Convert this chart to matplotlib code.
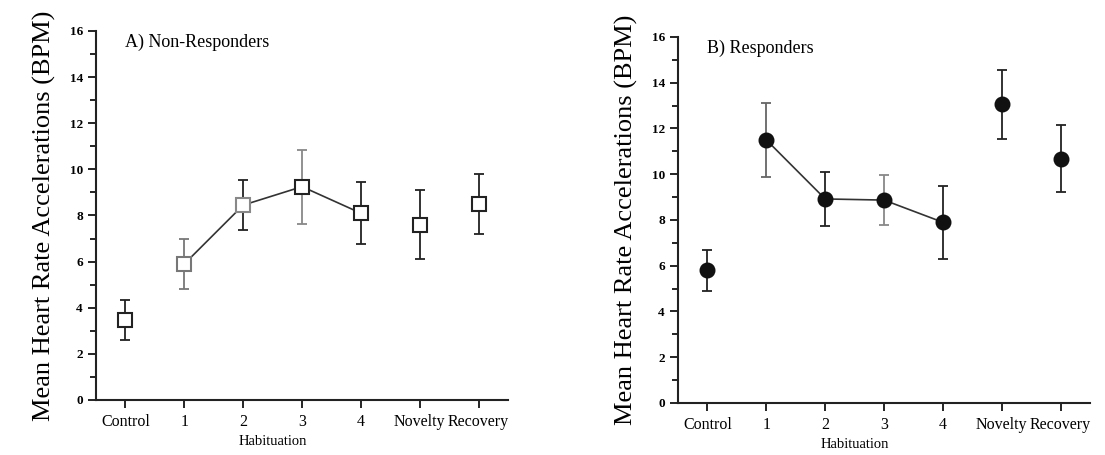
import numpy as np
import matplotlib
matplotlib.use("Agg")
import matplotlib.pyplot as plt
from matplotlib.ticker import MultipleLocator

plt.rcParams['font.family'] = ['Liberation Serif', 'DejaVu Serif']

# Data
conditions = ["Control", "1", "2", "3", "4", "Novelty", "Recovery"]
hab_idx = [1, 2, 3, 4]  # the habituation trials are joined by a line

nonresp_mean = [3.45, 5.9, 8.45, 9.25, 8.1, 7.6, 8.5]
nonresp_err = [0.87, 1.1, 1.1, 1.6, 1.35, 1.5, 1.3]

resp_mean = [5.8, 11.5, 8.92, 8.87, 7.9, 13.05, 10.68]
resp_err = [0.9, 1.6, 1.18, 1.1, 1.6, 1.5, 1.47]

# a few bars/markers are printed in grey in the original
nonresp_bar_col = ["#222222", "#777777", "#222222", "#888888", "#222222", "#222222", "#222222"]
nonresp_edge_col = ["#222222", "#777777", "#888888", "#222222", "#222222", "#222222", "#222222"]
resp_bar_col = ["#222222", "#666666", "#222222", "#888888", "#222222", "#222222", "#222222"]

fig = plt.figure(figsize=(11.05, 4.55), dpi=100)
axA = fig.add_axes([0.0869, 0.1209, 0.3729, 0.811])
axB = fig.add_axes([0.6136, 0.1143, 0.3729, 0.8044])


def draw_panel(ax, means, errs, bar_cols, edge_cols, marker, face, title):
    x = np.arange(len(conditions))
    ax.plot([x[i] for i in hab_idx], [means[i] for i in hab_idx],
            color="#333333", lw=1.2, zorder=2)
    for i in x:
        ax.errorbar(i, means[i], yerr=errs[i], fmt="none", ecolor=bar_cols[i],
                    elinewidth=1.3, capsize=3.5, capthick=1.3, zorder=1)
        ax.plot(i, means[i], marker=marker, ms=10 if marker == "s" else 10,
                mfc=face, mec=edge_cols[i], mew=1.5, ls="none", zorder=3)
    ax.set_xlim(-0.5, 6.5)
    ax.set_ylim(0, 16)
    ax.set_xticks(x)
    ax.set_xticklabels(conditions, fontsize=11.5)
    ax.yaxis.set_major_locator(MultipleLocator(2))
    ax.yaxis.set_minor_locator(MultipleLocator(1))
    ax.tick_params(axis="y", which="major", labelsize=9.5, length=6, width=1.2,
                   direction="out")
    ax.tick_params(axis="y", which="minor", length=4, width=1.2, direction="out")
    ax.tick_params(axis="x", length=6, width=1.2, direction="out", pad=4)
    for lab in ax.get_yticklabels():
        lab.set_fontweight("bold")
    for s in ["top", "right"]:
        ax.spines[s].set_visible(False)
    for s in ["left", "bottom"]:
        ax.spines[s].set_linewidth(1.5)
        ax.spines[s].set_color("#222222")
    ax.set_ylabel("Mean Heart Rate Accelerations (BPM)", fontsize=19,
                  labelpad=10)
    ax.text(2.5, -1.8, "Habituation", ha="center", va="center", fontsize=10.5,
            transform=ax.transData, clip_on=False)
    ax.text(0.0, 15.5, title, ha="left", va="center", fontsize=13)


draw_panel(axA, nonresp_mean, nonresp_err, nonresp_bar_col, nonresp_edge_col,
           "s", "white", "A) Non-Responders")
draw_panel(axB, resp_mean, resp_err, resp_bar_col, ["#111111"] * 7,
           "o", "#111111", "B) Responders")

fig.savefig("out.png", dpi=100)
